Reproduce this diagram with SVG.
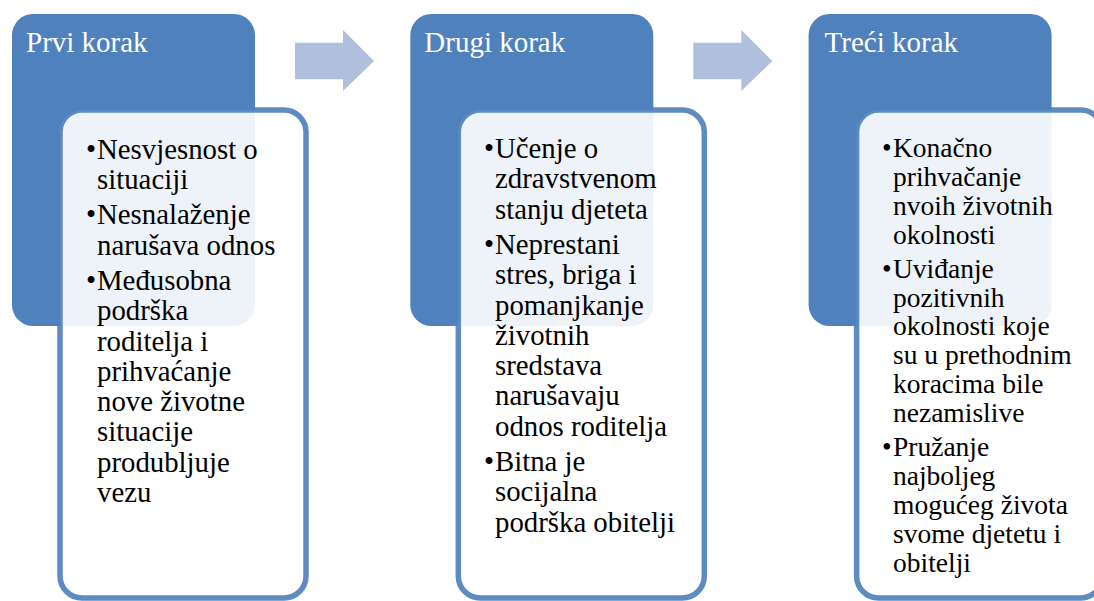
<svg xmlns="http://www.w3.org/2000/svg" width="1094" height="601" viewBox="0 0 1094 601">
<style>
.bg{fill:#ffffff}
.step{fill:#4f81bd}
.card{fill:#ffffff;fill-opacity:0.9;stroke:#4f81bd;stroke-opacity:0.92;stroke-width:5.5}
.title{font-size:29px;fill:#ffffff}
.body{font-size:28.8px;fill:#000000}
.body3{font-size:27.5px;fill:#000000}
.arrow{fill:#b0c0dc}
</style>
<defs>
<path id="arr" d="M0,12.7 H48 V0 L79,31 L48,61 V49.3 H0 Z"/>
</defs>
<rect class="bg" x="0" y="0" width="1094" height="601"/>
<g id="connectors">
<use href="#arr" class="arrow" x="295" y="30"/>
<use href="#arr" class="arrow" x="693.3" y="30"/>
</g>
<g font-family="Liberation Serif, Tinos, Times New Roman, DejaVu Serif, serif">
<g id="step1">
<rect class="step" x="12" y="14" width="243" height="312" rx="21"/>
<text class="title" x="26" y="52">Prvi korak</text>
<rect class="card" x="60" y="110" width="246" height="488" rx="22"/>
<g class="body">
<text x="86" y="158.7">•</text>
<text x="97" y="158.7">Nesvjesnost o</text>
<text x="97" y="189">situaciji</text>
<text x="86" y="224.3">•</text>
<text x="97" y="224.3">Nesnalaženje</text>
<text x="97" y="254.6">narušava odnos</text>
<text x="86" y="289.9">•</text>
<text x="97" y="289.9">Međusobna</text>
<text x="97" y="320.2">podrška</text>
<text x="97" y="350.5">roditelja i</text>
<text x="97" y="380.8">prihvaćanje</text>
<text x="97" y="411.1">nove životne</text>
<text x="97" y="441.4">situacije</text>
<text x="97" y="471.7">produbljuje</text>
<text x="97" y="502">vezu</text>
</g>
</g>
<g id="step2">
<rect class="step" x="410.3" y="14" width="243" height="312" rx="21"/>
<text class="title" x="424.3" y="52">Drugi korak</text>
<rect class="card" x="458.3" y="110" width="246" height="488" rx="22"/>
<g class="body">
<text x="484" y="158">•</text>
<text x="495" y="158">Učenje o</text>
<text x="495" y="188.3">zdravstvenom</text>
<text x="495" y="218.6">stanju djeteta</text>
<text x="484" y="253.9">•</text>
<text x="495" y="253.9">Neprestani</text>
<text x="495" y="284.2">stres, briga i</text>
<text x="495" y="314.5">pomanjkanje</text>
<text x="495" y="344.8">životnih</text>
<text x="495" y="375.1">sredstava</text>
<text x="495" y="405.4">narušavaju</text>
<text x="495" y="435.7">odnos roditelja</text>
<text x="484" y="471">•</text>
<text x="495" y="471">Bitna je</text>
<text x="495" y="501.3">socijalna</text>
<text x="495" y="531.6">podrška obitelji</text>
</g>
</g>
<g id="step3">
<rect class="step" x="808.6" y="14" width="243" height="312" rx="21"/>
<text class="title" x="824.6" y="52">Treći korak</text>
<rect class="card" x="856.6" y="110" width="246" height="488" rx="22"/>
<g class="body3">
<text x="882" y="157">•</text>
<text x="893" y="157">Konačno</text>
<text x="893" y="185.9">prihvačanje</text>
<text x="893" y="214.8">nvoih životnih</text>
<text x="893" y="243.7">okolnosti</text>
<text x="882" y="277.6">•</text>
<text x="893" y="277.6">Uviđanje</text>
<text x="893" y="306.5">pozitivnih</text>
<text x="893" y="335.4">okolnosti koje</text>
<text x="893" y="364.3">su u prethodnim</text>
<text x="893" y="393.2">koracima bile</text>
<text x="893" y="422.1">nezamislive</text>
<text x="882" y="456">•</text>
<text x="893" y="456">Pružanje</text>
<text x="893" y="484.9">najboljeg</text>
<text x="893" y="513.8">mogućeg života</text>
<text x="893" y="542.7">svome djetetu i</text>
<text x="893" y="571.6">obitelji</text>
</g>
</g>
</g>
</svg>
